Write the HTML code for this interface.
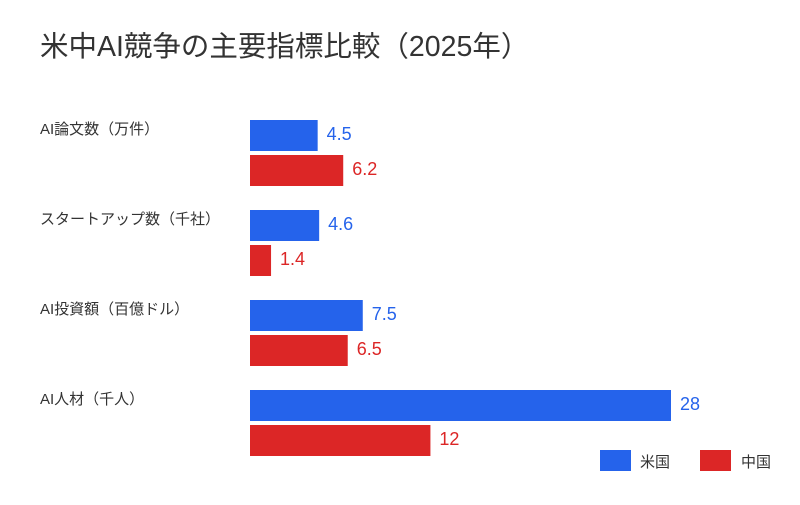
<!DOCTYPE html>
<html><head><meta charset="utf-8"><style>
body{margin:0;background:#fff;font-family:"Liberation Sans","Noto Sans CJK JP",sans-serif;}
svg text{font-family:"Liberation Sans","Noto Sans CJK JP",sans-serif;}
</style></head><body>
<svg id="c" width="800" height="500">
<text x="40" y="56" font-size="28.5" fill="#333">米中AI競争の主要指標比較（2025年）</text>
<g id="bars"></g>
<g>
<rect x="600" y="450" width="31" height="21" fill="#2563eb"/>
<text x="640" y="467" font-size="15" fill="#333">米国</text>
<rect x="700" y="450" width="31" height="21" fill="#dc2626"/>
<text x="741" y="467" font-size="15" fill="#333">中国</text>
</g>
</svg>
<script>
const categories=["AI論文数（万件）","スタートアップ数（千社）","AI投資額（百億ドル）","AI人材（千人）"];
const usValues=[4.5,4.6,7.5,28];
const cnValues=[6.2,1.4,6.5,12];
const usLabels=["4.5","4.6","7.5","28"];
const cnLabels=["6.2","1.4","6.5","12"];
const NS="http://www.w3.org/2000/svg";
const g=document.getElementById('bars');
const x0=250, pxPer=421/28;
function xs(v){return v*pxPer;}
function ys(i){return 120+i*90;}
function mk(t,a){const e=document.createElementNS(NS,t);for(const k in a)e.setAttribute(k,a[k]);g.appendChild(e);return e;}
categories.forEach((c,i)=>{
  const y=ys(i);
  const l=mk('text',{x:40,y:y+14,'font-size':15,fill:'#333'});l.textContent=c;
  
  
  [[usValues,usLabels,'#2563eb',0,'bar-us'],[cnValues,cnLabels,'#dc2626',35,'bar-cn']].forEach(([vals,labs,col,off,nm])=>{
    const w=xs(vals[i]);
    const r=mk('rect',{x:x0,y:y+off,width:w,height:31,fill:col});
    
    
    const t=mk('text',{x:x0+w+9,y:y+off+20,'font-size':18,fill:col});t.textContent=labs[i];
    
    
  });
});
</script>
</body></html>
